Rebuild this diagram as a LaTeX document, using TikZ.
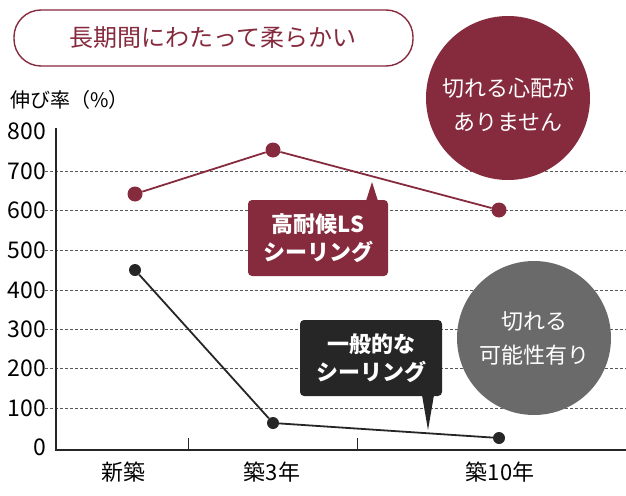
\documentclass[tikz,border=0pt]{standalone}
\usepackage{fontspec}
\setmainfont{Noto Sans CJK JP}
\definecolor{wine}{HTML}{862A3D}
\definecolor{greyc}{HTML}{6A6A6A}
\definecolor{blk}{HTML}{262626}
\begin{document}
\begin{tikzpicture}[x=1pt,y=-1pt,
  grid/.style={densely dashed,gray!70!black,line width=0.6pt},
  dotw/.style={circle,fill=wine,inner sep=0,minimum size=15pt},
  dotk/.style={circle,fill=blk,inner sep=0,minimum size=12pt},
  lab/.style={font=\fontsize{23}{23}\selectfont,anchor=east,inner sep=0},
  xl/.style={font=\fontsize{22}{22}\selectfont,inner sep=0},
  bub/.style={font=\bfseries\fontsize{22}{28}\selectfont,text=white,align=center,inner sep=0}]
\useasboundingbox (0,0) rectangle (626,495);
% title
\draw[wine,line width=1.4pt,rounded corners=27pt] (14,10) rectangle (413,66);
\node[text=wine,font=\fontsize{24}{24}\selectfont] (title) at (213,38) {長期間にわたって柔らかい};
\node[font=\fontsize{20}{20}\selectfont,anchor=west,inner sep=0] (ylab) at (10,100) {伸び率（\%）};
% grid
\foreach \v/\yy in {700/171,600/210,500/250,400/290,300/329,200/368,100/408}{
  \draw[grid] (45,\yy) -- (626,\yy);
  \node[lab] at (46,\yy) {\v};
}
\node[lab] at (46,131) {800};
\node[lab] at (46,447) {0};
% circles
\fill[wine] (508,98) circle (82);
\node[bub,font=\fontsize{22}{34}\selectfont] (c1) at (508,105) {切れる心配が\\ありません};
\fill[greyc] (534,338) circle (77);
\node[bub,font=\fontsize{22}{34}\selectfont] (c2) at (534,338) {切れる\\可能性有り};
% axes
\draw[blk,line width=1.5pt] (56,128) -- (56,450) -- (626,450);
\draw[blk,line width=0.6pt] (188,438) -- (188,450) (357,438) -- (357,450);
\node[xl] (x1) at (123,472) {新築};
\node[xl] (x2) at (272,472) {築3年};
\node[xl] (x3) at (500,472) {築10年};
% red series
\node[dotw] (r1) at (135,194) {};
\node[dotw] (r2) at (273,150) {};
\node[dotw] (r3) at (499,210) {};
\draw[wine,line width=1.8pt] (r1) -- (r2) -- (r3);
% black series
\node[dotk] (k1) at (135,270) {};
\node[dotk] (k2) at (273,423) {};
\node[dotk] (k3) at (499,438) {};
\draw[blk,line width=1.8pt] (k1) -- (k2) -- (k3);
% bubbles
\fill[wine,rounded corners=4pt] (248,200) rectangle (388,276);
\fill[wine] (366,201) -- (372,182) -- (378,201) -- cycle;
\node[bub] (b1) at (318,238) {高耐候LS\\シーリング};
\fill[blk,rounded corners=4pt] (300,320) rectangle (442,396);
\fill[blk] (422,395) -- (428,430) -- (434,395) -- cycle;
\node[bub] (b2) at (371,358) {一般的な\\シーリング};
\end{tikzpicture}
\end{document}
